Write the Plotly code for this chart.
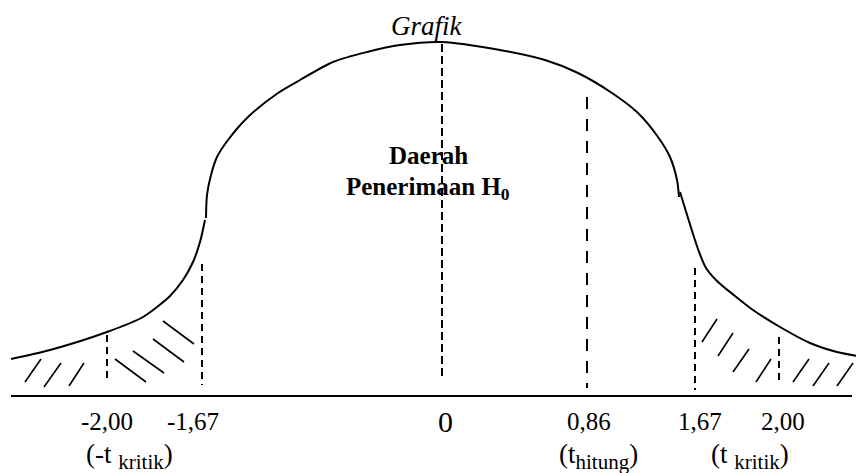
import plotly.graph_objects as go

# ---- data (diagram coordinates; y grows downward) ----
left_tail_x = [11, 50, 107, 143, 157, 170, 183, 193, 200, 205]
left_tail_y = [359, 350, 332, 317, 307, 296, 280, 262, 242, 220]

body_x = [206, 207, 211, 217, 228, 248, 278, 300, 333, 367, 400, 442, 500, 545, 578, 612, 638, 658, 670, 677, 679]
body_y = [218, 195, 175, 157, 140, 117, 93, 80, 62, 52, 45, 42, 50, 60, 73, 93, 113, 137, 157, 180, 197]

right_tail_x = [680, 688, 698, 706, 717, 740, 753, 780, 810, 837, 864]
right_tail_y = [192, 218, 249, 268, 281, 300, 310, 327, 343, 352, 357]

# dashed verticals: x, top, bottom
vline_x = [107, 202, 442, 587, 695, 779]
vline_top = [335, 264, 44, 97, 268, 337]
vline_bot = [383, 385, 380, 388, 390, 383]

# hatching segments
hatch_x0 = [25, 44, 69, 115, 133, 153, 163, 702, 718, 733, 756, 793, 813, 837]
hatch_y0 = [382, 387, 386, 359, 351, 339, 321, 342, 356, 372, 382, 382, 386, 386]
hatch_x1 = [41, 61, 84, 146, 164, 184, 194, 717, 733, 749, 771, 809, 829, 853]
hatch_y1 = [359, 363, 363, 382, 373, 362, 344, 319, 333, 349, 359, 359, 363, 363]

axis_x = [11, 852]
axis_y = [396, 396]

tick_labels = ["-2,00", "-1,67", "0", "0,86", "1,67", "2,00"]
tick_x = [107, 193, 445, 589, 700, 783]
sub_main = ["(-t ", "(t", "(t "]
sub_small = ["kritik", "hitung", "kritik"]
sub_x = [129, 598, 750]

fig = go.Figure()
black = "black"
for xs, ys in [(left_tail_x, left_tail_y), (body_x, body_y), (right_tail_x, right_tail_y)]:
    fig.add_trace(go.Scatter(x=xs, y=ys, mode="lines",
                             line=dict(color=black, width=2, shape="spline", smoothing=0.8),
                             hoverinfo="skip", showlegend=False))

dash_styles = ["7px,5px", "7px,5px", "8px,4px", "12px,10px", "7px,5px", "7px,5px"]
for x, t, b, d in zip(vline_x, vline_top, vline_bot, dash_styles):
    fig.add_trace(go.Scatter(x=[x, x], y=[t, b], mode="lines",
                             line=dict(color=black, width=2, dash=d),
                             hoverinfo="skip", showlegend=False))

hx, hy = [], []
for a, b, c, d in zip(hatch_x0, hatch_y0, hatch_x1, hatch_y1):
    hx += [a, c, None]
    hy += [b, d, None]
fig.add_trace(go.Scatter(x=hx, y=hy, mode="lines", line=dict(color=black, width=1.6),
                         hoverinfo="skip", showlegend=False))

fig.add_trace(go.Scatter(x=axis_x, y=axis_y, mode="lines", line=dict(color=black, width=2),
                         hoverinfo="skip", showlegend=False))

serif = "Liberation Serif, Times New Roman, serif"
for lab, x in zip(tick_labels, tick_x):
    fig.add_annotation(x=x, y=421, text=lab, showarrow=False, xanchor="center", yanchor="middle",
                       font=dict(family=serif, size=30 if lab == "0" else 25, color=black))
for m, s, x in zip(sub_main, sub_small, sub_x):
    txt = m + "<sub><span style='font-size:21px'>" + s + "</span></sub>)"
    fig.add_annotation(x=x, y=456, text=txt, showarrow=False, xanchor="center", yanchor="middle",
                       font=dict(family=serif, size=27, color=black))

fig.add_annotation(x=427, y=26, text="<i>Grafik</i>", showarrow=False, xanchor="center", yanchor="middle",
                   font=dict(family=serif, size=27, color=black))
fig.add_annotation(x=428, y=155, text="<b>Daerah</b>", showarrow=False, xanchor="center", yanchor="middle",
                   font=dict(family=serif, size=25, color=black))
fig.add_annotation(x=428, y=188, text="<b>Penerimaan H<sub>0</sub></b>", showarrow=False,
                   xanchor="center", yanchor="middle",
                   font=dict(family=serif, size=25, color=black))

# page body has an 8px margin: shrink figure and shift ranges so data units equal window pixels
fig.update_layout(width=856, height=465, margin=dict(l=0, r=0, t=0, b=0),
                  paper_bgcolor="white", plot_bgcolor="white",
                  xaxis=dict(range=[8, 864], visible=False, fixedrange=True),
                  yaxis=dict(range=[473, 8], visible=False, fixedrange=True))

fig.write_html("out.html")
